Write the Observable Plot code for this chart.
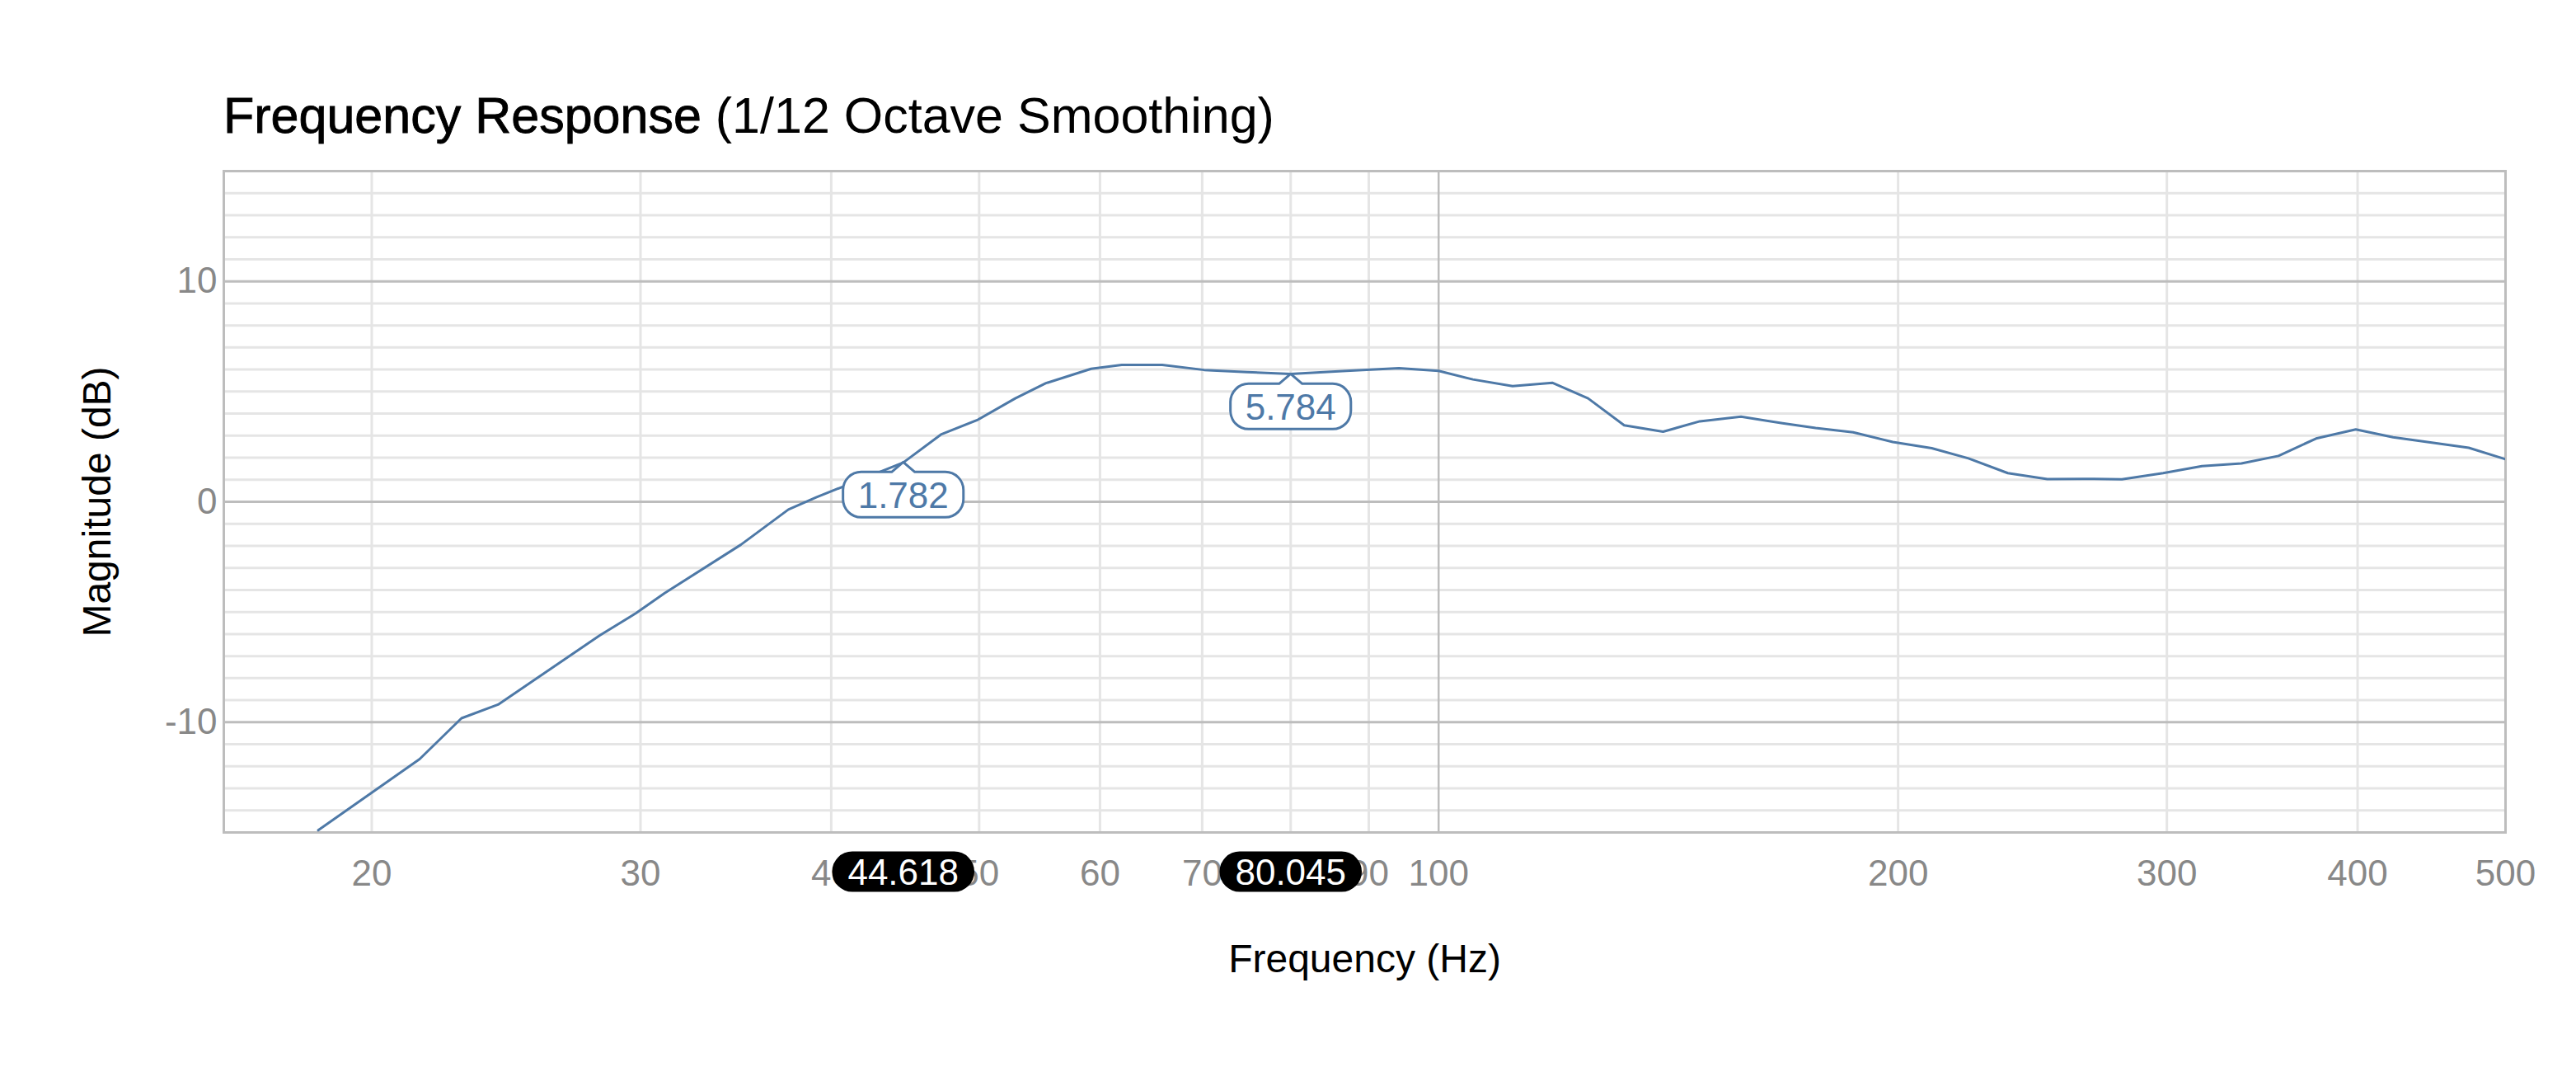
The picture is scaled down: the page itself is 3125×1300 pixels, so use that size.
<!DOCTYPE html>
<html>
<head>
<meta charset="utf-8">
<script src="https://cdn.jsdelivr.net/npm/d3@7"></script>
<script src="https://cdn.jsdelivr.net/npm/@observablehq/plot@0.6"></script>
<style>
  html, body { margin: 0; padding: 0; background: #fff; }
  body { width: 3125px; height: 1300px; position: relative; overflow: hidden; font-family: "Liberation Sans", Arial, sans-serif; }
  #title { position: absolute; left: 271px; top: 110px; font-size: 61px; line-height: 61px; color: #000; white-space: nowrap; }
  #title .main { -webkit-text-stroke: 0.9px #000; }
  #chart { position: absolute; left: 0; top: 190px; }
</style>
</head>
<body>
<div id="title"><span class="main">Frequency Response</span> (1/12 Octave Smoothing)</div>
<div id="chart"></div>
<script>
// ---- data ----
const freqHz = [18.45, 21.5, 22.9, 24.2, 28.2, 29.8, 31.1, 34.9, 37.5, 39.1, 41.1, 43.2, 44.6, 47.2, 49.9, 52.8, 55.3, 59.2, 62.0, 65.9, 70.2, 74.9, 80.0, 87.0, 94.2, 100, 105.3, 111.8, 118.7, 125.3, 132.3, 140.3, 148.3, 157.8, 168.0, 176.6, 186.9, 198.4, 210.4, 222.4, 236.0, 250.5, 265.0, 280.3, 298.3, 316.3, 335.7, 355.0, 375.7, 398.9, 422.0, 447.4, 473.0, 500];
const magDb  = [-14.9, -11.67, -9.82, -9.2, -6.07, -5.05, -4.15, -1.95, -0.35, 0.2, 0.8, 1.4, 1.78, 3.05, 3.72, 4.69, 5.38, 6.03, 6.21, 6.21, 5.98, 5.88, 5.8, 5.94, 6.06, 5.94, 5.55, 5.25, 5.4, 4.69, 3.47, 3.18, 3.65, 3.86, 3.56, 3.35, 3.15, 2.71, 2.43, 1.97, 1.30, 1.03, 1.04, 1.02, 1.30, 1.62, 1.74, 2.08, 2.87, 3.28, 2.93, 2.68, 2.45, 1.93];
const calloutFreqs = [44.618, 80.045];
const calloutValues = [1.782, 5.784];
const xTicks = [20, 30, 40, 50, 60, 70, 80, 90, 100, 200, 300, 400, 500];
const xMinorGrid = [20, 30, 40, 50, 60, 70, 80, 90, 200, 300, 400];
const xMajorGrid = [100];
const yTicks = [-10, 0, 10];
const yMinorGrid = d3.range(-14, 15).filter(v => v % 10 !== 0);

const series = freqHz.map((f, i) => ({f, db: magDb[i]}));
const callouts = calloutFreqs.map((f, i) => ({f, db: calloutValues[i]}));

const FONT = "'Liberation Sans', Arial, sans-serif";
const BLUE = "#4e79a7";
const canvasCtx = document.createElement("canvas").getContext("2d");
function textWidth(t, size) {
  canvasCtx.font = `${size}px ${FONT}`;
  return canvasCtx.measureText(t).width;
}

// blue callout below each point, with an upward pointer
function calloutRender(index, scales, values) {
  const g = d3.create("svg:g");
  for (const i of index) {
    const px = values.x[i], py = values.y[i];
    const label = callouts[i].db.toFixed(3);
    const w = textWidth(label, 44) + 36, h = 55, r = 22, m = 12, hw = 14;
    const L = px - w / 2, R = px + w / 2, T = py + m, B = T + h;
    g.append("path")
      .attr("d", `M${px},${py}L${px + hw},${T}H${R - r}A${r},${r} 0 0 1 ${R},${T + r}V${B - r}A${r},${r} 0 0 1 ${R - r},${B}H${L + r}A${r},${r} 0 0 1 ${L},${B - r}V${T + r}A${r},${r} 0 0 1 ${L + r},${T}H${px - hw}Z`)
      .attr("fill", "#fff").attr("stroke", BLUE).attr("stroke-width", 3).attr("stroke-linejoin", "round");
    g.append("text")
      .attr("x", px).attr("y", T + h / 2 + 16)
      .attr("text-anchor", "middle").attr("font-size", 44).attr("font-family", FONT)
      .attr("fill", BLUE).text(label);
  }
  return g.node();
}

// black pill on the x axis with the frequency
function axisPillRender(index, scales, values, dimensions) {
  const g = d3.create("svg:g");
  const cy = dimensions.height - dimensions.marginBottom + 48;
  for (const i of index) {
    const px = values.x[i];
    const label = callouts[i].f.toFixed(3);
    const w = textWidth(label, 44) + 38, h = 49;
    g.append("rect")
      .attr("x", px - w / 2).attr("y", cy - h / 2).attr("width", w).attr("height", h)
      .attr("rx", h / 2).attr("ry", h / 2).attr("fill", "#000");
    g.append("text")
      .attr("x", px).attr("y", cy + 15.5)
      .attr("text-anchor", "middle").attr("font-size", 44).attr("font-family", FONT)
      .attr("fill", "#fff").text(label);
  }
  return g.node();
}

const chart = Plot.plot({
  width: 3125,
  height: 1020,
  marginTop: 17,
  marginBottom: 201,
  marginLeft: 271,
  marginRight: 86,
  style: {fontFamily: FONT, background: "#fff"},
  x: {type: "log", domain: [16, 500]},
  y: {domain: [-15, 15]},
  marks: [
    Plot.gridY(yMinorGrid, {stroke: "#e5e5e5", strokeOpacity: 1, strokeWidth: 3}),
    Plot.gridX(xMinorGrid, {stroke: "#e5e5e5", strokeOpacity: 1, strokeWidth: 3}),
    Plot.gridY(yTicks, {stroke: "#bdbdbd", strokeOpacity: 1, strokeWidth: 3}),
    Plot.gridX(xMajorGrid, {stroke: "#bdbdbd", strokeOpacity: 1, strokeWidth: 2.5}),
    Plot.frame({stroke: "#bdbdbd", strokeWidth: 3}),
    Plot.axisX(xTicks, {tickSize: 0, tickPadding: 33, fontSize: 44, fill: "#888", label: null, tickFormat: d => String(d)}),
    Plot.axisY(yTicks, {tickSize: 0, tickPadding: 8, fontSize: 44, fill: "#888", label: null, tickFormat: d => String(d)}),
    Plot.line(series, {x: "f", y: "db", stroke: BLUE, strokeWidth: 3, clip: true}),
    Plot.text(["Frequency (Hz)"], {text: d => d, frameAnchor: "bottom", textAnchor: "middle", lineAnchor: "middle", dy: 154, fontSize: 48, fill: "#000"}),
    Plot.text(["Magnitude (dB)"], {text: d => d, frameAnchor: "left", textAnchor: "middle", lineAnchor: "middle", dx: -153, rotate: -90, fontSize: 48, fill: "#000"}),
    Plot.dot(callouts, {x: "f", y: "db", render: calloutRender}),
    Plot.dot(callouts, {x: "f", y: "db", render: axisPillRender})
  ]
});
document.getElementById("chart").appendChild(chart);
</script>
</body>
</html>
